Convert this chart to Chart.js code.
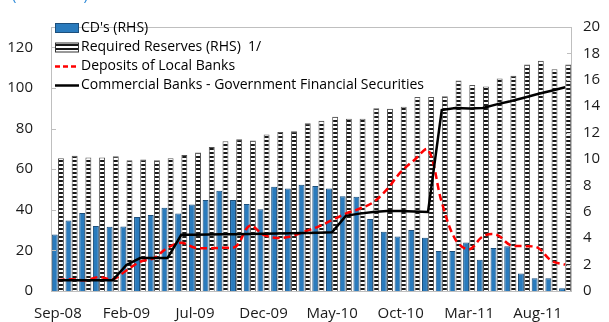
<!DOCTYPE html>
<html>
<head>
<meta charset="utf-8">
<script src="https://cdn.jsdelivr.net/npm/chart.js@4.4.1/dist/chart.umd.min.js"></script>
<style>
    html, body { margin: 0; padding: 0; background: #fff; }
    #wrap { position: relative; width: 609px; height: 322px; }
</style>
</head>
<body>
<div id="wrap"><canvas id="reserveChart" width="609" height="322"></canvas></div>
<script>
// Monthly observations, Sep-08 to Oct-11
const months = [
    'Sep-08', 'Oct-08', 'Nov-08', 'Dec-08', 'Jan-09', 'Feb-09', 'Mar-09', 'Apr-09',
    'May-09', 'Jun-09', 'Jul-09', 'Aug-09', 'Sep-09', 'Oct-09', 'Nov-09', 'Dec-09',
    'Jan-10', 'Feb-10', 'Mar-10', 'Apr-10', 'May-10', 'Jun-10', 'Jul-10', 'Aug-10',
    'Sep-10', 'Oct-10', 'Nov-10', 'Dec-10', 'Jan-11', 'Feb-11', 'Mar-11', 'Apr-11',
    'May-11', 'Jun-11', 'Jul-11', 'Aug-11', 'Sep-11', 'Oct-11'
];

// right hand scale
const cds = [
    4.28, 5.34, 5.9, 4.92, 4.87, 4.89, 5.61, 5.76, 6.31, 5.88, 6.55, 6.89, 7.6,
    6.89, 6.59, 6.2, 7.9, 7.77, 8.04, 7.95, 7.77, 7.18, 7.14, 5.46, 4.48, 4.13,
    4.63, 4.04, 3.03, 3.03, 3.67, 2.36, 3.25, 3.39, 1.33, 0.96, 0.96, 0.2
];
const requiredReserves = [
    10.05, 10.25, 10.12, 10.12, 10.2, 9.9, 9.97, 9.9, 10.05, 10.3, 10.5, 10.9, 11.35,
    11.5, 11.4, 11.85, 12.05, 12.1, 12.7, 12.9, 13.2, 13.05, 13.05, 13.85, 13.8, 13.95,
    14.7, 14.7, 14.75, 15.95, 15.6, 15.5, 16.1, 16.3, 17.15, 17.45, 16.8, 17.15
];

// left hand scale
const localDeposits = [
    5.3, 5.8, 5.3, 6.9, 5.8, 10.1, 14.4, 16.2, 21.3, 23.7, 21.3, 21.1, 21.3,
    22, 32.2, 27.7, 26.1, 26.9, 29.3, 31.7, 34.9, 38.1, 40.5, 43.7, 50, 58.5,
    64.5, 69.6, 43.7, 25.3, 20.5, 26.9, 27.7, 22.6, 22.1, 21.3, 14.9, 13
];
const govSecurities = [
    5.3, 5.3, 5.3, 5.3, 5.3, 12.8, 16.2, 16.2, 16.2, 27.7, 27.7, 27.8, 27.9,
    28, 28.1, 28.2, 28.3, 28.4, 28.5, 28.7, 28.9, 37, 38.1, 38.9, 39.4, 39.4,
    39.2, 38.9, 89.1, 90.1, 89.9, 90.1, 91.9, 93.4, 95.2, 97, 98.6, 100.3
];

const leftTicks = [0, 20, 40, 60, 80, 100, 120];
const rightTicks = [0, 2, 4, 6, 8, 10, 12, 14, 16, 18, 20];

const FONT = '"Open Sans", "DejaVu Sans", sans-serif';
const BLUE = '#2a7bbd';

// white with horizontal black stripes
function stripePattern(ctx) {
    const c = document.createElement('canvas');
    c.width = 4;
    c.height = 4;
    const p = c.getContext('2d');
    p.fillStyle = '#ffffff';
    p.fillRect(0, 0, 4, 4);
    p.fillStyle = '#1a1a1a';
    p.fillRect(0, 0, 4, 2);
    return ctx.createPattern(c, 'repeat');
}

const ctx = document.getElementById('reserveChart').getContext('2d');
const stripes = stripePattern(ctx);

// frame around the plot and small inward tick marks
const framePlugin = {
    id: 'frame',
    afterDraw(chart) {
        const { ctx, chartArea: a, scales } = chart;
        ctx.save();
        ctx.strokeStyle = '#bfbfbf';
        ctx.lineWidth = 1;
        ctx.strokeRect(a.left + 0.5, a.top + 0.5, a.right - a.left - 1, a.bottom - a.top);
        ctx.beginPath();
        leftTicks.forEach(v => {
            const y = Math.round(scales.y.getPixelForValue(v)) + 0.5;
            ctx.moveTo(a.left, y);
            ctx.lineTo(a.left + 5, y);
        });
        rightTicks.forEach(v => {
            const y = Math.round(scales.y2.getPixelForValue(v)) + 0.5;
            ctx.moveTo(a.right - 5, y);
            ctx.lineTo(a.right, y);
        });
        ctx.stroke();
        ctx.restore();
    }
};

// legend drawn inside the plot, top left
const legendPlugin = {
    id: 'innerLegend',
    afterDraw(chart) {
        const c = chart.ctx;
        const items = [
            { kind: 'bar', text: "CD's (RHS)", y: 28 },
            { kind: 'stripe', text: 'Required Reserves (RHS)  1/', y: 47.5 },
            { kind: 'dash', text: 'Deposits of Local Banks', y: 66.5 },
            { kind: 'line', text: 'Commercial Banks - Government Financial Securities', y: 85.5 }
        ];
        c.save();
        items.forEach(it => {
            if (it.kind === 'bar' || it.kind === 'stripe') {
                c.fillStyle = it.kind === 'bar' ? BLUE : stripes;
                c.fillRect(55, it.y - 4, 23, 8);
                c.strokeStyle = it.kind === 'bar' ? '#1c4f7c' : '#333';
                c.lineWidth = 1;
                c.strokeRect(55.5, it.y - 4.5, 23, 9);
            } else {
                c.strokeStyle = it.kind === 'dash' ? '#ff0000' : '#000';
                c.lineWidth = 2.5;
                c.setLineDash(it.kind === 'dash' ? [5, 3] : []);
                c.beginPath();
                c.moveTo(55, it.y);
                c.lineTo(79, it.y);
                c.stroke();
                c.setLineDash([]);
            }
            c.fillStyle = '#000';
            c.font = '14px ' + FONT;
            c.textBaseline = 'middle';
            c.fillText(it.text, 81, it.y);
        });
        // units note, mostly above the top edge
        c.fillStyle = '#2e8ad8';
        c.font = '15px ' + FONT;
        c.textBaseline = 'alphabetic';
        c.fillText('(In billions)', 12, 0);
        c.restore();
    }
};

new Chart(ctx, {
    type: 'bar',
    data: {
        labels: months,
        datasets: [
            {
                type: 'line',
                label: 'Deposits of Local Banks',
                data: localDeposits,
                yAxisID: 'y',
                borderColor: '#ff0000',
                borderWidth: 2.5,
                borderDash: [7, 4],
                tension: 0.35,
                pointRadius: 0,
                fill: false,
                order: 1
            },
            {
                type: 'line',
                label: 'Commercial Banks - Government Financial Securities',
                data: govSecurities,
                yAxisID: 'y',
                borderColor: '#000000',
                borderWidth: 2.5,
                tension: 0,
                pointRadius: 0,
                fill: false,
                order: 0
            },
            {
                label: "CD's (RHS)",
                data: cds,
                yAxisID: 'y2',
                backgroundColor: BLUE,
                borderColor: '#1c4f7c',
                borderWidth: 1,
                categoryPercentage: 0.9,
                barPercentage: 0.96,
                order: 2
            },
            {
                label: 'Required Reserves (RHS)  1/',
                data: requiredReserves,
                yAxisID: 'y2',
                backgroundColor: stripes,
                borderColor: '#555',
                borderWidth: 1,
                categoryPercentage: 0.9,
                barPercentage: 0.96,
                order: 2
            }
        ]
    },
    options: {
        responsive: false,
        animation: false,
        layout: { padding: { top: 20, left: 0, right: 0, bottom: 0 } },
        plugins: {
            legend: { display: false },
            tooltip: { enabled: false }
        },
        scales: {
            x: {
                grid: { display: false, drawTicks: false },
                border: { display: false },
                ticks: {
                    autoSkip: false,
                    maxRotation: 0,
                    padding: 14,
                    color: '#1a1a1a',
                    font: { family: FONT, size: 15 },
                    callback: (v, i) => (i % 5 === 0 ? months[i] : '')
                },
                afterFit: s => { s.height = 31; }
            },
            y: {
                position: 'left',
                min: 0,
                max: 130,
                grid: { display: false, drawTicks: false },
                border: { display: false },
                ticks: {
                    stepSize: 20,
                    padding: 18,
                    color: '#1a1a1a',
                    font: { family: FONT, size: 15 }
                },
                afterBuildTicks: s => { s.ticks = leftTicks.map(v => ({ value: v })); },
                afterFit: s => { s.width = 51; }
            },
            y2: {
                position: 'right',
                min: 0,
                max: 20,
                grid: { display: false, drawTicks: false },
                border: { display: false },
                ticks: {
                    stepSize: 2,
                    padding: 11,
                    color: '#1a1a1a',
                    font: { family: FONT, size: 15 }
                },
                afterBuildTicks: s => { s.ticks = rightTicks.map(v => ({ value: v })); },
                afterFit: s => { s.width = 37; }
            }
        }
    },
    plugins: [framePlugin, legendPlugin]
});
</script>
</body>
</html>
